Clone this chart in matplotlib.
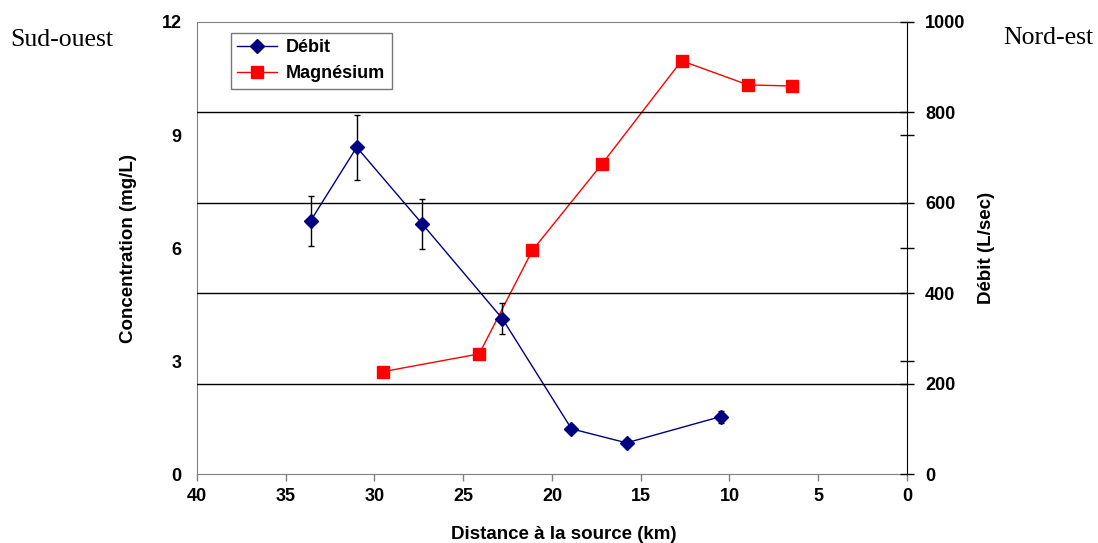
import numpy as np
import matplotlib
matplotlib.use("Agg")
import matplotlib.pyplot as plt

### Data
### ---------------------------------
dist_debit = [33.6, 31.0, 27.3, 22.8, 18.9, 15.8, 10.5]
debit = [560, 723, 553, 344, 100, 69, 127]
debit_err = [56, 72, 55, 35, 8, 4, 13]

dist_mg = [29.5, 24.1, 21.1, 17.2, 12.7, 8.95, 6.45]
magnesium = [2.72, 3.19, 5.94, 8.22, 10.97, 10.33, 10.30]

conc_ticks = [0, 3, 6, 9, 12]
debit_ticks = [0, 200, 400, 600, 800, 1000]
dist_ticks = [40, 35, 30, 25, 20, 15, 10, 5, 0]

plt.rcParams['font.family'] = ['Liberation Sans', 'DejaVu Sans']

fig = plt.figure(figsize=(10.98, 5.43), dpi=100)
ax = fig.add_axes([0.1794, 0.127, 0.6466, 0.8325])
ax2 = ax.twinx()

### Gridlines at the discharge ticks (behind the lines)
ax2.set_ylim(0, 1000)
for v in debit_ticks[1:-1]:
    ax2.axhline(v, color='black', lw=1.0, zorder=0)

### Magnesium (left axis)
l_mg, = ax.plot(dist_mg, magnesium, color='#ff0000', lw=1.0, marker='s',
                markersize=8, markeredgecolor='#ff0000', label='Magnésium', zorder=3)

### Discharge (right axis) with error bars
ax2.errorbar(dist_debit, debit, yerr=debit_err, fmt='none', ecolor='black',
             elinewidth=1.0, capsize=2.5, capthick=1.0, zorder=4)
l_deb, = ax2.plot(dist_debit, debit, color='#000080', lw=1.0, marker='D',
                  markersize=7, markeredgecolor='#000080', label='Débit', zorder=5)

### Axes
ax.set_xlim(40, 0)
ax.set_ylim(0, 12)
ax.set_xticks(dist_ticks)
ax.set_yticks(conc_ticks)
ax2.set_yticks(debit_ticks)
ax2.set_yticks([250, 500, 750], minor=True)

for lab in ax.get_xticklabels() + ax.get_yticklabels() + ax2.get_yticklabels():
    lab.set_fontweight('bold')
    lab.set_fontsize(13)

ax.tick_params(axis='y', length=0, pad=11)
ax.tick_params(axis='x', direction='out', length=5, width=1, color='#808080', pad=5)
ax2.tick_params(axis='y', which='both', direction='inout', length=10, width=1, pad=8)

for s in ['left', 'top', 'bottom']:
    ax.spines[s].set_color('#808080')
    ax2.spines[s].set_visible(False)
ax.spines['right'].set_visible(False)
ax2.spines['right'].set_color('black')

ax.set_xlabel('Distance à la source (km)', fontsize=13.5, fontweight='bold', labelpad=13)
ax.xaxis.set_label_coords(0.517, -0.115)
ax.set_ylabel('Concentration (mg/L)', fontsize=13.5, fontweight='bold', labelpad=18)
ax2.set_ylabel('Débit (L/sec)', fontsize=13.5, fontweight='bold', labelpad=9)

### Legend
leg = ax2.legend([l_deb, l_mg], ['Débit', 'Magnésium'], loc='upper left',
                 bbox_to_anchor=(0.048, 0.976), borderaxespad=0, fancybox=False,
                 prop={'weight': 'bold', 'size': 13}, handlelength=2.2,
                 labelspacing=0.5, borderpad=0.35, handletextpad=0.5)
leg.get_frame().set_edgecolor('#555555')
leg.get_frame().set_linewidth(1.0)

### Side labels
fig.text(10 / 1098, 1 - 40 / 543, 'Sud-ouest', family=['Liberation Serif', 'DejaVu Serif'],
         fontsize=18.5, ha='left', va='center')
fig.text(1003 / 1098, 1 - 38 / 543, 'Nord-est', family=['Liberation Serif', 'DejaVu Serif'],
         fontsize=18.5, ha='left', va='center')

fig.savefig('out.png', dpi=100)
